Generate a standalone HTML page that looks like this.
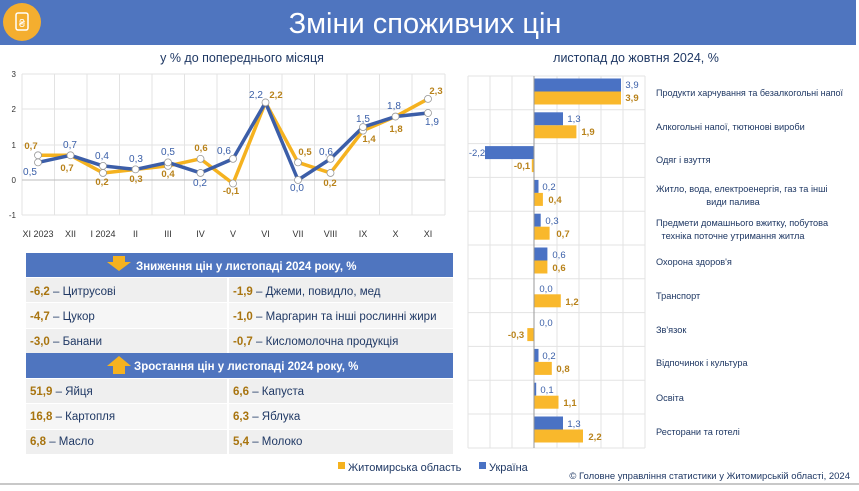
<!DOCTYPE html>
<html><head><meta charset="utf-8"><style>
body{margin:0;width:859px;height:486px;overflow:hidden;background:#fff;font-family:"Liberation Sans",sans-serif}
svg text{font-family:"Liberation Sans",sans-serif}
</style></head><body>
<svg width="859" height="486" viewBox="0 0 859 486" xmlns="http://www.w3.org/2000/svg">
<rect x="0" y="0" width="856" height="45" fill="#4f75bf"/>
<circle cx="22" cy="22" r="19" fill="#f4ae2f"/>
<rect x="16" y="13" width="12" height="17" rx="2" fill="none" stroke="#fff" stroke-width="1.5"/>
<text x="22" y="27" font-size="11" fill="#fff" text-anchor="middle">₴</text>
<text x="425" y="33" font-size="29" fill="#fff" text-anchor="middle">Зміни споживчих цін</text>
<text x="242" y="62" font-size="12.5" fill="#1f3864" text-anchor="middle">у % до попереднього місяця</text>
<text x="636" y="62" font-size="12.5" fill="#1f3864" text-anchor="middle">листопад до жовтня 2024, %</text>

<g stroke="#e3e3e3" stroke-width="1">
<line x1="22" y1="74" x2="445" y2="74"/><line x1="22" y1="109" x2="445" y2="109"/><line x1="22" y1="145" x2="445" y2="145"/><line x1="22" y1="215" x2="445" y2="215"/>
<line x1="22" y1="74" x2="22" y2="215"/><line x1="54.5" y1="74" x2="54.5" y2="215"/><line x1="87" y1="74" x2="87" y2="215"/><line x1="119.5" y1="74" x2="119.5" y2="215"/><line x1="152" y1="74" x2="152" y2="215"/><line x1="184.5" y1="74" x2="184.5" y2="215"/><line x1="217" y1="74" x2="217" y2="215"/><line x1="249.5" y1="74" x2="249.5" y2="215"/><line x1="282" y1="74" x2="282" y2="215"/><line x1="314.5" y1="74" x2="314.5" y2="215"/><line x1="347" y1="74" x2="347" y2="215"/><line x1="379.5" y1="74" x2="379.5" y2="215"/><line x1="412" y1="74" x2="412" y2="215"/><line x1="445" y1="74" x2="445" y2="215"/>
</g>
<line x1="22" y1="180" x2="445" y2="180" stroke="#bdbdbd" stroke-width="1"/>
<g font-size="8" fill="#333" text-anchor="end">
<text x="16" y="77">3</text><text x="16" y="112">2</text><text x="16" y="148">1</text><text x="16" y="183">0</text><text x="16" y="218">-1</text>
</g>
<g font-size="9" fill="#333" text-anchor="middle">
<text x="38" y="237">XI 2023</text><text x="70.5" y="237">XII</text><text x="103" y="237">I 2024</text><text x="135.5" y="237">II</text><text x="168" y="237">III</text><text x="200.5" y="237">IV</text><text x="233" y="237">V</text><text x="265.5" y="237">VI</text><text x="298" y="237">VII</text><text x="330.5" y="237">VIII</text><text x="363" y="237">IX</text><text x="395.5" y="237">X</text><text x="428" y="237">XI</text>
</g>
<polyline fill="none" stroke="#f5b21f" stroke-width="3.5" stroke-linejoin="round" points="38,155.3 70.5,155.3 103,172.95 135.5,169.4 168,165.9 200.5,158.85 233,183.5 265.5,102.45 298,162.4 330.5,172.95 363,130.65 395.5,116.55 428,98.9"/>
<polyline fill="none" stroke="#3c5ea8" stroke-width="3.5" stroke-linejoin="round" points="38,162.4 70.5,155.3 103,165.9 135.5,169.4 168,162.4 200.5,172.95 233,158.85 265.5,102.45 298,180 330.5,158.85 363,127.1 395.5,116.55 428,113"/>
<g fill="#fff" stroke="#999" stroke-width="0.8">
<circle cx="38" cy="155.3" r="3.5"/><circle cx="70.5" cy="155.3" r="3.5"/><circle cx="103" cy="172.95" r="3.5"/><circle cx="135.5" cy="169.4" r="3.5"/><circle cx="168" cy="165.9" r="3.5"/><circle cx="200.5" cy="158.85" r="3.5"/><circle cx="233" cy="183.5" r="3.5"/><circle cx="265.5" cy="102.45" r="3.5"/><circle cx="298" cy="162.4" r="3.5"/><circle cx="330.5" cy="172.95" r="3.5"/><circle cx="363" cy="130.65" r="3.5"/><circle cx="395.5" cy="116.55" r="3.5"/><circle cx="428" cy="98.9" r="3.5"/>
<circle cx="38" cy="162.4" r="3.5"/><circle cx="103" cy="165.9" r="3.5"/><circle cx="168" cy="162.4" r="3.5"/><circle cx="200.5" cy="172.95" r="3.5"/><circle cx="233" cy="158.85" r="3.5"/><circle cx="298" cy="180" r="3.5"/><circle cx="330.5" cy="158.85" r="3.5"/><circle cx="363" cy="127.1" r="3.5"/><circle cx="428" cy="113" r="3.5"/>
</g>
<g font-size="9.5" font-weight="bold" text-anchor="middle" fill="#b8821a">
<text x="31" y="149">0,7</text><text x="67" y="171">0,7</text><text x="102" y="185">0,2</text><text x="136" y="182">0,3</text><text x="168" y="177">0,4</text><text x="201" y="151">0,6</text><text x="231" y="194">-0,1</text><text x="276" y="98">2,2</text><text x="305" y="155">0,5</text><text x="330" y="186">0,2</text><text x="369" y="142">1,4</text><text x="396" y="132">1,8</text><text x="436" y="94">2,3</text>
</g>
<g font-size="10" text-anchor="middle" fill="#3a5fa8">
<text x="30" y="175">0,5</text><text x="70" y="148">0,7</text><text x="102" y="159">0,4</text><text x="136" y="162">0,3</text><text x="168" y="155">0,5</text><text x="200" y="186">0,2</text><text x="224" y="154">0,6</text><text x="256" y="98">2,2</text><text x="297" y="191">0,0</text><text x="326" y="155">0,6</text><text x="363" y="122">1,5</text><text x="394" y="109">1,8</text><text x="432" y="125">1,9</text>
</g>

<rect x="26" y="253" width="427" height="24" fill="#4f75bf"/>
<rect x="26" y="353" width="427" height="25" fill="#4f75bf"/>
<g fill="#efefef">
<rect x="26" y="278" width="201" height="24"/><rect x="229" y="278" width="224" height="24"/>
<rect x="26" y="303" width="201" height="25" fill="#f6f6f6"/><rect x="229" y="303" width="224" height="25" fill="#f6f6f6"/>
<rect x="26" y="329" width="201" height="24"/><rect x="229" y="329" width="224" height="24"/>
<rect x="26" y="379" width="201" height="24"/><rect x="229" y="379" width="224" height="24"/>
<rect x="26" y="404" width="201" height="25" fill="#f6f6f6"/><rect x="229" y="404" width="224" height="25" fill="#f6f6f6"/>
<rect x="26" y="430" width="201" height="24"/><rect x="229" y="430" width="224" height="24"/>
</g>
<polygon points="113,256 125,256 125,262 131,262 119,271 107,262 113,262" fill="#f5b21f"/>
<polygon points="119,356 131,366 125,366 125,374 113,374 113,366 107,366" fill="#f5b21f"/>
<g font-size="11.5" font-weight="bold" fill="#fff">
<text x="136" y="270">Зниження цін у листопаді 2024 року, %</text>
<text x="134" y="370">Зростання цін у листопаді 2024 року, %</text>
</g>
<g font-size="11.5" fill="#1f3864">
<text x="30" y="295"><tspan font-weight="bold" fill="#a8740f">-6,2</tspan> – Цитрусові</text>
<text x="30" y="320"><tspan font-weight="bold" fill="#a8740f">-4,7</tspan> – Цукор</text>
<text x="30" y="345"><tspan font-weight="bold" fill="#a8740f">-3,0</tspan> – Банани</text>
<text x="233" y="295"><tspan font-weight="bold" fill="#a8740f">-1,9</tspan> – Джеми, повидло, мед</text>
<text x="233" y="320"><tspan font-weight="bold" fill="#a8740f">-1,0</tspan> – Маргарин та інші рослинні жири</text>
<text x="233" y="345"><tspan font-weight="bold" fill="#a8740f">-0,7</tspan> – Кисломолочна продукція</text>
<text x="30" y="395"><tspan font-weight="bold" fill="#a8740f">51,9</tspan> – Яйця</text>
<text x="30" y="420"><tspan font-weight="bold" fill="#a8740f">16,8</tspan> – Картопля</text>
<text x="30" y="445"><tspan font-weight="bold" fill="#a8740f">6,8</tspan> – Масло</text>
<text x="233" y="395"><tspan font-weight="bold" fill="#a8740f">6,6</tspan> – Капуста</text>
<text x="233" y="420"><tspan font-weight="bold" fill="#a8740f">6,3</tspan> – Яблука</text>
<text x="233" y="445"><tspan font-weight="bold" fill="#a8740f">5,4</tspan> – Молоко</text>
</g>

<g stroke="#e3e3e3" stroke-width="1">
<line x1="468" y1="76" x2="468" y2="448"/><line x1="490" y1="76" x2="490" y2="448"/><line x1="512" y1="76" x2="512" y2="448"/><line x1="557" y1="76" x2="557" y2="448"/><line x1="579" y1="76" x2="579" y2="448"/><line x1="601" y1="76" x2="601" y2="448"/><line x1="623" y1="76" x2="623" y2="448"/><line x1="645" y1="76" x2="645" y2="448"/>
<line x1="468" y1="76" x2="645" y2="76"/><line x1="468" y1="109.8" x2="645" y2="109.8"/><line x1="468" y1="143.6" x2="645" y2="143.6"/><line x1="468" y1="177.4" x2="645" y2="177.4"/><line x1="468" y1="211.2" x2="645" y2="211.2"/><line x1="468" y1="245" x2="645" y2="245"/><line x1="468" y1="278.8" x2="645" y2="278.8"/><line x1="468" y1="312.6" x2="645" y2="312.6"/><line x1="468" y1="346.4" x2="645" y2="346.4"/><line x1="468" y1="380.2" x2="645" y2="380.2"/><line x1="468" y1="414" x2="645" y2="414"/><line x1="468" y1="448" x2="645" y2="448"/>
</g>
<g fill="#4a72c4">
<rect x="534" y="78.5" width="87" height="13"/><rect x="534" y="112.3" width="29" height="13"/><rect x="485" y="146.1" width="49" height="13"/><rect x="534" y="179.9" width="4.5" height="13"/><rect x="534" y="213.7" width="6.7" height="13"/><rect x="534" y="247.5" width="13.4" height="13"/><rect x="534" y="348.9" width="4.5" height="13"/><rect x="534" y="382.7" width="2.2" height="13"/><rect x="534" y="416.5" width="29" height="13"/>
</g>
<g fill="#f9b82c">
<rect x="534" y="91.5" width="87" height="13"/><rect x="534" y="125.3" width="42.4" height="13"/><rect x="531.8" y="159.1" width="2.2" height="13"/><rect x="534" y="192.9" width="8.9" height="13"/><rect x="534" y="226.7" width="15.6" height="13"/><rect x="534" y="260.5" width="13.4" height="13"/><rect x="534" y="294.3" width="26.8" height="13"/><rect x="527.3" y="328.1" width="6.7" height="13"/><rect x="534" y="361.9" width="17.8" height="13"/><rect x="534" y="395.7" width="24.5" height="13"/><rect x="534" y="429.5" width="49" height="13"/>
</g>
<line x1="534" y1="76" x2="534" y2="448" stroke="#999" stroke-width="1"/>
<g font-size="9.5" fill="#3a5fa8" text-anchor="middle">
<text x="632" y="88">3,9</text><text x="574" y="122">1,3</text><text x="477" y="156">-2,2</text><text x="549" y="190">0,2</text><text x="552" y="224">0,3</text><text x="559" y="258">0,6</text><text x="546" y="292">0,0</text><text x="546" y="326">0,0</text><text x="549" y="359">0,2</text><text x="547" y="393">0,1</text><text x="574" y="427">1,3</text>
</g>
<g font-size="9.5" font-weight="bold" fill="#b8821a" text-anchor="middle">
<text x="632" y="101">3,9</text><text x="588" y="135">1,9</text><text x="522" y="169">-0,1</text><text x="555" y="203">0,4</text><text x="563" y="237">0,7</text><text x="559" y="271">0,6</text><text x="572" y="305">1,2</text><text x="516" y="338">-0,3</text><text x="563" y="372">0,8</text><text x="570" y="406">1,1</text><text x="595" y="440">2,2</text>
</g>
<g font-size="9.2" fill="#1f3864">
<text x="656" y="96" textLength="187" lengthAdjust="spacingAndGlyphs">Продукти харчування та безалкогольні напої</text>
<text x="656" y="130">Алкогольні напої, тютюнові вироби</text>
<text x="656" y="163">Одяг і взуття</text>
<text x="656" y="192">Житло, вода, електроенергія, газ та інші</text>
<text x="733" y="205" text-anchor="middle">види палива</text>
<text x="656" y="226">Предмети домашнього вжитку, побутова</text>
<text x="733" y="239" text-anchor="middle">техніка поточне утримання житла</text>
<text x="656" y="265">Охорона здоров'я</text>
<text x="656" y="299">Транспорт</text>
<text x="656" y="333">Зв'язок</text>
<text x="656" y="366">Відпочинок і культура</text>
<text x="656" y="401">Освіта</text>
<text x="656" y="435">Ресторани та готелі</text>
</g>

<rect x="338" y="462" width="7" height="7" fill="#f5b21f"/>
<text x="348" y="471" font-size="11" fill="#1f3864">Житомирська область</text>
<rect x="479" y="462" width="7" height="7" fill="#4a72c4"/>
<text x="489" y="471" font-size="11" fill="#1f3864">Україна</text>
<text x="850" y="479" font-size="9.5" fill="#1f3864" text-anchor="end">© Головне управління статистики у Житомирській області, 2024</text>
<line x1="0" y1="484" x2="859" y2="484" stroke="#c8c8c8" stroke-width="2"/>
</svg>
</body></html>
